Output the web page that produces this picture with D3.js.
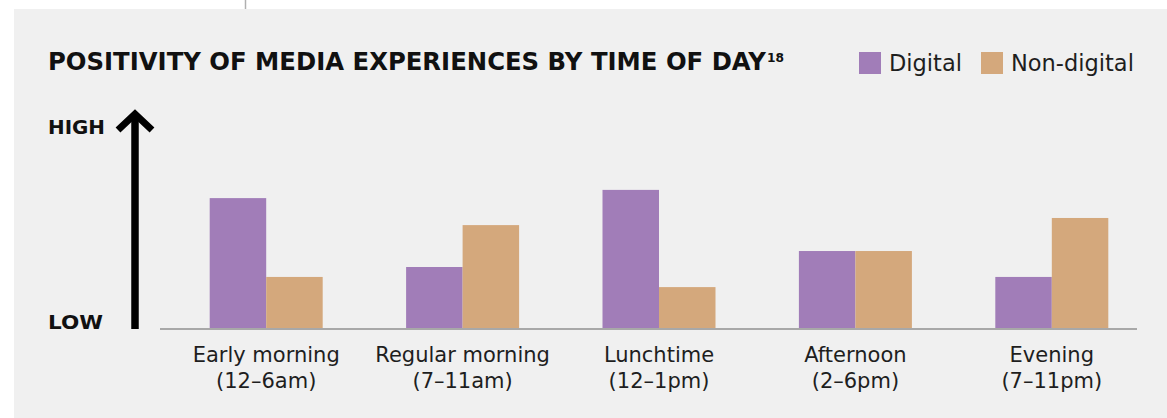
<!DOCTYPE html>
<html lang="en">
<head>
  <meta charset="UTF-8" />
  <title>Positivity of media experiences by time of day</title>
  <style>
    html, body {
      margin: 0;
      padding: 0;
      background: #fff;
      font-family: "DejaVu Sans", sans-serif;
    }
    svg { display: block; }
    .cat { font-size: 21px; fill: #1e1e1e; }
    .legend text { font-size: 22.5px; fill: #1e1e1e; }
    .axis-label { font-size: 20px; font-weight: bold; fill: #111; }
  </style>
</head>
<body>
  <svg width="1167" height="418"></svg>
  <script src="https://d3js.org/d3.v7.min.js"></script>
  <script>
    const categories = ['Early morning', 'Regular morning', 'Lunchtime', 'Afternoon', 'Evening'];
    const subLabels = ['(12–6am)', '(7–11am)', '(12–1pm)', '(2–6pm)', '(7–11pm)'];
    const series = ['Digital', 'Non-digital'];
    const digital = [60.6, 28.7, 64.4, 36.1, 24.1];
    const nonDigital = [24.1, 48.1, 19.4, 36.1, 51.4];

    const colors = { 'Digital': '#a17db8', 'Non-digital': '#d4a87c' };

    const data = categories.map((c, i) => ({
      cat: c, sub: subLabels[i],
      values: [{ key: 'Digital', v: digital[i] }, { key: 'Non-digital', v: nonDigital[i] }]
    }));

    const svg = d3.select("svg");

    // grey panel + little rule above it
    svg.append("rect").attr("x", 14).attr("y", 9).attr("width", 1153).attr("height", 409).attr("fill", "#f0f0f0");
    svg.append("line").attr("x1", 245.5).attr("x2", 245.5).attr("y1", 0).attr("y2", 9)
      .attr("stroke", "#b0b0b0").attr("stroke-width", 1.5);

    const x = d3.scaleBand().domain(categories).range([168, 1150]);
    const x1 = d3.scaleBand().domain(series).range([0, 113]);
    const y = d3.scaleLinear().domain([0, 100]).range([329, 113]);

    // title
    svg.append("text").attr("x", 48).attr("y", 69.5)
      .attr("font-size", 24).attr("font-weight", "bold").attr("fill", "#111")
      .attr("textLength", 718).attr("lengthAdjust", "spacingAndGlyphs")
      .text("POSITIVITY OF MEDIA EXPERIENCES BY TIME OF DAY");
    svg.append("text").attr("x", 767).attr("y", 62)
      .attr("font-size", 12).attr("font-weight", "bold").attr("fill", "#111")
      .attr("textLength", 17).attr("lengthAdjust", "spacingAndGlyphs")
      .text("18");

    // legend
    const legendX = { 'Digital': 859, 'Non-digital': 981 };
    const legend = svg.append("g").attr("class", "legend")
      .selectAll("g").data(series).join("g")
      .attr("transform", d => `translate(${legendX[d]},52)`);
    legend.append("rect").attr("width", 22).attr("height", 22).attr("fill", d => colors[d]);
    legend.append("text").attr("x", 30).attr("y", 19).text(d => d);

    // bars
    const groups = svg.append("g").selectAll("g").data(data).join("g")
      .attr("transform", d => `translate(${x(d.cat) + x.bandwidth() / 2 - 56.5},0)`);
    groups.selectAll("rect").data(d => d.values).join("rect")
      .attr("x", d => x1(d.key))
      .attr("width", x1.bandwidth())
      .attr("y", d => y(d.v))
      .attr("height", d => y(0) - y(d.v))
      .attr("fill", d => colors[d.key]);

    // baseline
    svg.append("line").attr("x1", 160).attr("x2", 1137).attr("y1", y(0)).attr("y2", y(0))
      .attr("stroke", "#a8a8a8").attr("stroke-width", 2);

    // category labels
    const labels = svg.append("g").selectAll("text").data(data).join("text")
      .attr("class", "cat")
      .attr("text-anchor", "middle")
      .attr("x", d => x(d.cat) + x.bandwidth() / 2);
    labels.append("tspan").attr("x", d => x(d.cat) + x.bandwidth() / 2).attr("y", 362).text(d => d.cat);
    labels.append("tspan").attr("x", d => x(d.cat) + x.bandwidth() / 2).attr("y", 388).text(d => d.sub);

    // HIGH / LOW arrow axis
    svg.append("text").attr("class", "axis-label").attr("x", 48).attr("y", 134)
      .attr("textLength", 57).attr("lengthAdjust", "spacingAndGlyphs").text("HIGH");
    svg.append("text").attr("class", "axis-label").attr("x", 48).attr("y", 329)
      .attr("textLength", 55).attr("lengthAdjust", "spacingAndGlyphs").text("LOW");

    const arrowX = 135;
    svg.append("line").attr("x1", arrowX).attr("x2", arrowX).attr("y1", y(0)).attr("y2", 114)
      .attr("stroke", "#000").attr("stroke-width", 7.5);
    svg.append("path")
      .attr("d", `M${arrowX - 17},${130} L${arrowX},${114} L${arrowX + 17},${130}`)
      .attr("fill", "none").attr("stroke", "#000").attr("stroke-width", 7)
      .attr("stroke-linecap", "butt").attr("stroke-linejoin", "miter");
  </script>
</body>
</html>
